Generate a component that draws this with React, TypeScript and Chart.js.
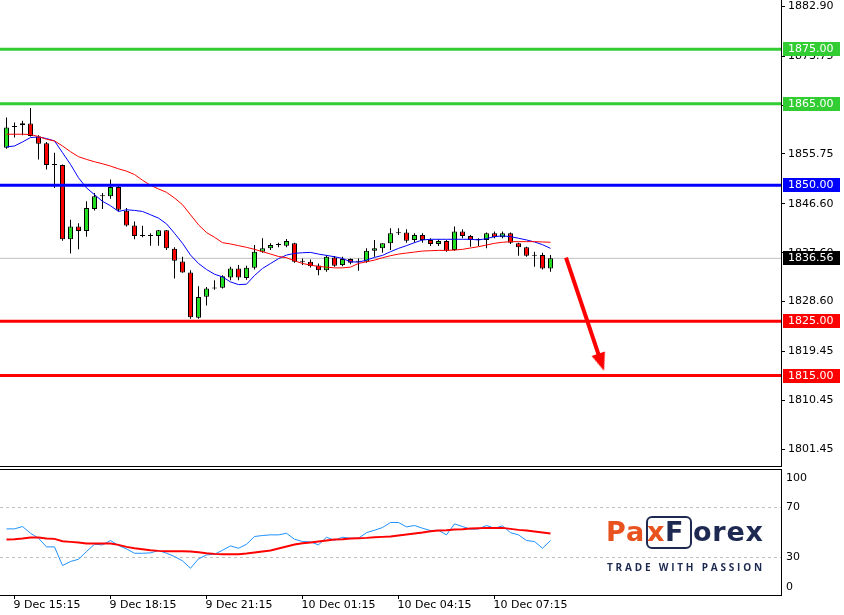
import React, { useEffect, useRef } from 'react';
import { Chart, registerables } from 'chart.js';

Chart.register(...registerables);

// ---------- data (15-minute candles, 9 Dec 15:00 onward) ----------
const opens = [
  1856.91, 1860.70, 1861.05, 1861.36, 1858.95, 1857.72, 1853.70, 1853.70, 1840.06, 1842.41,
  1841.60, 1845.62, 1847.96, 1847.96, 1849.69, 1845.31, 1842.59, 1840.68, 1840.68, 1840.68,
  1841.73, 1838.33, 1835.99, 1833.95, 1825.62, 1829.51, 1830.99, 1831.17, 1833.02, 1834.69,
  1832.95, 1834.85, 1837.78, 1838.39, 1839.01, 1838.89, 1839.32, 1835.93, 1835.93, 1835.25,
  1834.38, 1836.73, 1835.31, 1836.42, 1835.93, 1835.93, 1837.96, 1838.39, 1839.32, 1841.17,
  1841.30, 1839.94, 1840.86, 1839.94, 1839.20, 1839.75, 1838.09, 1841.48, 1840.68, 1839.94,
  1839.94, 1841.17, 1840.43, 1841.17, 1839.32, 1838.58, 1837.04, 1837.16, 1834.69,
];
const highs = [
  1862.47, 1861.54, 1861.85, 1864.20, 1859.20, 1857.96, 1855.99, 1853.83, 1843.64, 1843.02,
  1847.04, 1848.58, 1848.58, 1851.05, 1849.94, 1845.80, 1843.33, 1842.53, 1841.17, 1841.79,
  1841.79, 1838.58, 1836.85, 1834.38, 1831.42, 1831.30, 1832.53, 1833.46, 1835.00, 1835.31,
  1835.20, 1839.01, 1840.25, 1839.32, 1839.44, 1840.12, 1839.44, 1836.54, 1836.36, 1835.62,
  1837.16, 1836.97, 1836.85, 1836.54, 1836.54, 1838.39, 1839.94, 1839.32, 1842.10, 1842.10,
  1841.91, 1841.17, 1841.17, 1840.25, 1840.06, 1839.94, 1842.41, 1841.91, 1840.86, 1840.25,
  1841.30, 1841.48, 1841.48, 1841.30, 1839.44, 1838.70, 1837.78, 1837.59, 1837.16,
];
const lows = [
  1856.73, 1858.76, 1859.20, 1858.95, 1854.75, 1852.90, 1849.51, 1839.81, 1837.47, 1838.21,
  1840.55, 1845.37, 1845.62, 1847.53, 1845.18, 1842.41, 1840.06, 1840.43, 1838.89, 1838.89,
  1838.09, 1832.84, 1833.89, 1825.43, 1825.43, 1827.90, 1830.80, 1830.99, 1832.53, 1832.53,
  1832.60, 1834.51, 1837.59, 1838.09, 1838.58, 1838.58, 1835.74, 1835.31, 1834.88, 1833.46,
  1834.07, 1835.00, 1835.12, 1835.49, 1834.26, 1835.74, 1836.85, 1837.59, 1838.09, 1840.86,
  1839.44, 1839.44, 1839.44, 1838.83, 1838.83, 1837.78, 1837.96, 1840.25, 1838.70, 1838.83,
  1838.39, 1840.25, 1840.25, 1839.20, 1837.04, 1836.85, 1835.00, 1834.51, 1834.07,
];
const closes = [
  1860.62, 1860.70, 1861.42, 1859.07, 1857.65, 1853.70, 1853.70, 1840.06, 1842.41, 1841.60,
  1845.80, 1847.96, 1847.96, 1849.69, 1845.49, 1842.59, 1840.68, 1840.68, 1840.68, 1841.73,
  1838.39, 1836.11, 1833.95, 1825.74, 1829.44, 1830.99, 1830.99, 1833.27, 1834.69, 1833.02,
  1834.85, 1837.78, 1838.39, 1839.01, 1839.01, 1839.75, 1835.93, 1835.93, 1835.12, 1834.38,
  1836.85, 1835.18, 1836.42, 1835.74, 1835.93, 1837.96, 1838.39, 1839.32, 1841.17, 1841.17,
  1839.81, 1840.86, 1839.94, 1839.20, 1839.75, 1837.96, 1841.48, 1840.68, 1839.94, 1839.94,
  1841.17, 1840.43, 1841.17, 1839.44, 1838.58, 1837.04, 1837.04, 1834.69, 1836.56,
];
const maFast = [
  1857.04, 1857.22, 1857.96, 1858.76, 1858.89, 1858.58, 1858.15, 1855.99, 1853.83, 1851.37,
  1849.51, 1848.27, 1847.04, 1846.23, 1845.18, 1845.49, 1845.37, 1845.18, 1844.57, 1843.95,
  1842.90, 1841.17, 1839.32, 1837.16, 1835.62, 1834.51, 1833.64, 1833.15, 1832.22, 1831.73,
  1831.80, 1833.40, 1834.70, 1835.60, 1836.50, 1837.16, 1837.47, 1837.59, 1837.65, 1837.34,
  1837.10, 1836.85, 1836.54, 1835.93, 1835.86, 1836.23, 1836.73, 1837.10, 1837.78, 1838.39,
  1838.89, 1839.44, 1839.94, 1840.06, 1840.06, 1840.06, 1840.06, 1840.06, 1840.06, 1839.94,
  1840.19, 1840.55, 1840.68, 1840.55, 1840.25, 1839.94, 1839.57, 1839.07, 1838.39,
];
const maSlow = [
  1859.38, 1859.38, 1859.38, 1859.32, 1858.95, 1858.46, 1858.15, 1857.22, 1856.17, 1855.25,
  1854.75, 1854.32, 1853.95, 1853.52, 1853.02, 1852.59, 1851.97, 1850.92, 1849.99, 1849.32,
  1848.70, 1847.65, 1846.42, 1844.57, 1842.72, 1841.30, 1840.43, 1839.44, 1839.20, 1838.89,
  1838.58, 1838.21, 1837.78, 1837.35, 1836.90, 1836.67, 1836.11, 1835.62, 1835.31, 1835.06,
  1834.94, 1834.81, 1834.81, 1834.94, 1835.62, 1835.93, 1836.23, 1836.67, 1837.04, 1837.34,
  1837.53, 1837.71, 1837.90, 1837.96, 1838.02, 1838.02, 1838.09, 1838.21, 1838.46, 1838.70,
  1839.01, 1839.32, 1839.51, 1839.63, 1839.63, 1839.63, 1839.63, 1839.57, 1839.51,
];
const oscMain = [
  52.9, 52.9, 54.8, 49.4, 45.4, 38.5, 38.5, 23.6, 26.8, 28.6,
  34.8, 40.6, 40.1, 43.6, 39.6, 36.9, 33.4, 33.4, 33.7, 35.6,
  33.4, 30.8, 27.3, 21.4, 28.9, 32.1, 32.6, 35.8, 39.3, 37.4,
  40.6, 46.8, 47.6, 48.1, 48.1, 49.4, 44.6, 42.8, 42.5, 40.1,
  46.2, 43.8, 46.2, 45.4, 45.4, 49.9, 51.8, 54.0, 58.0, 58.0,
  54.5, 55.6, 53.4, 51.6, 51.8, 48.1, 56.9, 54.8, 52.6, 52.9,
  55.6, 53.4, 55.3, 49.9, 48.1, 43.6, 42.8, 37.4, 43.6,
];
const oscSignal = [
  44.4, 44.6, 45.2, 46.0, 46.0, 45.2, 44.9, 43.0, 42.5, 42.0,
  41.2, 41.2, 41.2, 41.2, 40.1, 38.5, 37.4, 36.6, 35.8, 35.3,
  35.0, 35.0, 35.0, 34.8, 34.2, 33.4, 32.9, 32.6, 32.6, 32.6,
  33.2, 34.0, 34.8, 35.6, 37.2, 38.8, 40.4, 41.4, 42.0, 42.8,
  43.6, 44.4, 44.6, 45.2, 45.4, 45.7, 46.2, 46.5, 46.8, 47.6,
  48.4, 49.2, 50.0, 51.0, 51.6, 51.8, 52.4, 52.6, 53.2, 53.4,
  53.7, 53.7, 53.7, 52.9, 52.1, 51.6, 50.8, 50.0, 49.2,
];

const levelValues = [1875, 1865, 1850, 1825, 1815];
const levelColors = ['#32cd32', '#32cd32', '#0000ff', '#ff0000', '#ff0000'];
const currentPrice = 1836.56;

const priceTicks = [1801.45, 1810.45, 1819.45, 1828.6, 1837.6, 1846.6, 1855.75, 1864.75, 1873.75, 1882.9];
const oscTicks = [100, 70, 30, 0];
const oscLevels = [70, 30];

const xTickIndex = [1, 13, 25, 37, 49, 61];
const xTickLabels = ['9 Dec 15:15', '9 Dec 18:15', '9 Dec 21:15', '10 Dec 01:15', '10 Dec 04:15', '10 Dec 07:15'];

// forecast arrow (index, price)
const arrowStart = [69.94, 1836.7];
const arrowShaftEnd = [74.21, 1817.98];
const arrowTip = [74.69, 1815.88];
const arrowHeadRotation = -18.6;

// ---------- styles ----------
const X_MIN = -0.8125;
const X_MAX = 96.8125;
const Y_MIN = 1798.19;
const Y_MAX = 1884.06;
const FONT = { family: '"DejaVu Sans", Verdana, sans-serif', size: 11 };
const FONT_CSS = '11px "DejaVu Sans", Verdana, sans-serif';
const BULL = '#22dd22';
const BEAR = '#ff0000';
const NAVY = '#1d2951';
const ORANGE = '#e8521f';

function makeArrowHead(color: string) {
  const c = document.createElement('canvas');
  c.width = 16;
  c.height = 40;
  const g = c.getContext('2d')!;
  g.fillStyle = color;
  g.beginPath();
  g.moveTo(8, 20);
  g.lineTo(1, 2);
  g.lineTo(15, 2);
  g.closePath();
  g.fill();
  return c;
}

const mainFrame = {
  id: 'mainFrame',
  afterDraw(chart: any) {
    const { ctx, chartArea } = chart;
    ctx.save();
    ctx.strokeStyle = '#000';
    ctx.lineWidth = 1;
    ctx.beginPath();
    ctx.moveTo(0, chartArea.bottom - 0.5);
    ctx.lineTo(chartArea.right + 1, chartArea.bottom - 0.5);
    ctx.stroke();
    ctx.restore();
  },
};

const tagPlugin = {
  id: 'tags',
  afterDraw(chart: any) {
    const { ctx, chartArea } = chart;
    const y = chart.scales.y;
    const values = [...levelValues, currentPrice];
    const colors = [...levelColors, '#000000'];
    ctx.save();
    ctx.font = FONT_CSS;
    ctx.textBaseline = 'middle';
    ctx.textAlign = 'left';
    values.forEach((v, i) => {
      const py = Math.round(y.getPixelForValue(v));
      ctx.fillStyle = colors[i];
      ctx.fillRect(chartArea.right + 2, py - 7, 57, 14);
      ctx.fillStyle = '#ffffff';
      ctx.fillText(v.toFixed(2), chartArea.right + 7, py + 0.5);
    });
    ctx.restore();
  },
};

const oscFrame = {
  id: 'oscFrame',
  afterDraw(chart: any) {
    const { ctx, chartArea } = chart;
    ctx.save();
    ctx.strokeStyle = '#000';
    ctx.lineWidth = 1;
    ctx.beginPath();
    ctx.moveTo(0, chartArea.top - 0.5);
    ctx.lineTo(chartArea.right + 1, chartArea.top - 0.5);
    ctx.stroke();
    // axis labels, kept inside the panel
    const y = chart.scales.y;
    ctx.font = FONT_CSS;
    ctx.fillStyle = '#000';
    ctx.textBaseline = 'middle';
    ctx.textAlign = 'left';
    oscTicks.forEach((v) => {
      const p = Math.min(Math.max(y.getPixelForValue(v), chartArea.top + 8), chartArea.bottom - 8);
      ctx.fillText(String(v), chartArea.right + 5, p);
    });
    ctx.restore();
  },
};

export default function App() {
  const mainRef = useRef<HTMLCanvasElement>(null);
  const oscRef = useRef<HTMLCanvasElement>(null);

  useEffect(() => {
    const idx = opens.map((_, i) => i);
    const bodies = idx.map((i) => ({ x: i, y: [opens[i], closes[i]] }));
    const wicks = idx.map((i) => ({ x: i, y: [lows[i], highs[i]] }));
    const bodyColors = idx.map((i) => (closes[i] > opens[i] ? BULL : closes[i] < opens[i] ? BEAR : '#000000'));
    const head = makeArrowHead('#ff0000');

    const main = new Chart(mainRef.current!, {
      type: 'line',
      data: {
        datasets: [
          {
            data: [
              { x: arrowStart[0], y: arrowStart[1] },
              { x: arrowShaftEnd[0], y: arrowShaftEnd[1] },
            ],
            borderColor: '#ff0000',
            borderWidth: 4,
            pointRadius: 0,
            borderCapStyle: 'butt',
            order: 0,
          },
          {
            data: [{ x: arrowTip[0], y: arrowTip[1] }],
            showLine: false,
            pointStyle: head,
            pointRadius: 6,
            pointRotation: arrowHeadRotation,
            order: 0,
          },
          ...levelValues.map((v, j) => ({
            data: [
              { x: X_MIN, y: v },
              { x: X_MAX, y: v },
            ],
            borderColor: levelColors[j],
            borderWidth: 3,
            pointRadius: 0,
            order: 1,
          })),
          {
            data: idx.map((i) => ({ x: i, y: maSlow[i] })),
            borderColor: '#ff0000',
            borderWidth: 1,
            pointRadius: 0,
            order: 2,
          },
          {
            data: idx.map((i) => ({ x: i, y: maFast[i] })),
            borderColor: '#0000ff',
            borderWidth: 1,
            pointRadius: 0,
            order: 2,
          },
          {
            type: 'bar',
            data: bodies,
            backgroundColor: bodyColors,
            borderColor: '#000000',
            borderWidth: 1,
            borderSkipped: false,
            barThickness: 5,
            minBarLength: 1,
            grouped: false,
            inflateAmount: 0,
            order: 3,
          },
          {
            type: 'bar',
            data: wicks,
            backgroundColor: '#000000',
            borderWidth: 0,
            barThickness: 1,
            grouped: false,
            inflateAmount: 0,
            order: 4,
          },
          {
            data: [
              { x: X_MIN, y: currentPrice },
              { x: X_MAX, y: currentPrice },
            ],
            borderColor: '#c0c0c0',
            borderWidth: 1,
            pointRadius: 0,
            order: 5,
          },
        ] as any,
      },
      options: {
        responsive: false,
        animation: false,
        events: [],
        layout: { padding: 0, autoPadding: false },
        plugins: { legend: { display: false }, tooltip: { enabled: false } },
        scales: {
          x: { type: 'linear', min: X_MIN, max: X_MAX, display: false, offset: false },
          y: {
            type: 'linear',
            position: 'right',
            min: Y_MIN,
            max: Y_MAX,
            bounds: 'data',
            afterBuildTicks: (s: any) => {
              s.ticks = priceTicks.map((v) => ({ value: v }));
            },
            afterFit: (s: any) => {
              s.width = 63;
              s.paddingTop = 0;
              s.paddingBottom = 0;
            },
            ticks: {
              font: FONT,
              color: '#000',
              padding: 3,
              autoSkip: false,
              callback: (v: any) => Number(v).toFixed(2),
            },
            grid: { drawOnChartArea: false, drawTicks: true, tickLength: 4, color: '#000', lineWidth: 1 },
            border: { display: true, color: '#000', width: 1 },
          },
        } as any,
      },
      plugins: [mainFrame, tagPlugin],
    } as any);

    const osc = new Chart(oscRef.current!, {
      type: 'line',
      data: {
        datasets: [
          {
            data: idx.map((i) => ({ x: i, y: oscSignal[i] })),
            borderColor: '#ff0000',
            borderWidth: 2,
            pointRadius: 0,
            order: 0,
          },
          {
            data: idx.map((i) => ({ x: i, y: oscMain[i] })),
            borderColor: '#1e90ff',
            borderWidth: 1,
            pointRadius: 0,
            order: 1,
          },
          ...oscLevels.map((v) => ({
            data: [
              { x: X_MIN, y: v },
              { x: X_MAX, y: v },
            ],
            borderColor: '#c0c0c0',
            borderWidth: 1,
            borderDash: [3, 3],
            pointRadius: 0,
            order: 3,
          })),
        ] as any,
      },
      options: {
        responsive: false,
        animation: false,
        events: [],
        layout: { padding: { top: 1, left: 0, right: 0, bottom: 0 }, autoPadding: false },
        plugins: { legend: { display: false }, tooltip: { enabled: false } },
        scales: {
          x: {
            type: 'linear',
            position: 'bottom',
            min: X_MIN,
            max: X_MAX,
            offset: false,
            afterBuildTicks: (s: any) => {
              s.ticks = xTickIndex.map((v) => ({ value: v }));
            },
            afterFit: (s: any) => {
              s.height = 20;
              s.paddingLeft = 0;
              s.paddingRight = 0;
            },
            ticks: {
              font: FONT,
              color: '#000',
              align: 'start',
              padding: 0,
              labelOffset: -1,
              autoSkip: false,
              maxRotation: 0,
              callback: (v: any) => {
                const k = xTickIndex.indexOf(Number(v));
                return k >= 0 ? xTickLabels[k] : '';
              },
            },
            grid: { drawOnChartArea: false, drawTicks: true, tickLength: 4, color: '#000' },
            border: { display: true, color: '#000', width: 1 },
          },
          y: {
            type: 'linear',
            position: 'right',
            min: 0,
            max: 100,
            afterFit: (s: any) => {
              s.width = 63;
              s.paddingTop = 0;
              s.paddingBottom = 0;
            },
            ticks: { display: false },
            grid: { display: false },
            border: { display: true, color: '#000', width: 1 },
          },
        } as any,
      },
      plugins: [oscFrame],
    } as any);

    return () => {
      main.destroy();
      osc.destroy();
    };
  }, []);

  const big: React.CSSProperties = {
    position: 'absolute',
    fontFamily: '"DejaVu Sans", sans-serif',
    fontSize: 27,
    lineHeight: '28px',
    fontWeight: 700,
    whiteSpace: 'nowrap',
  };

  return (
    <div
      style={{
        position: 'fixed',
        left: 0,
        top: 0,
        width: 844,
        height: 615,
        background: '#ffffff',
        overflow: 'hidden',
      }}
    >
      <canvas
        ref={mainRef}
        width={844}
        height={467}
        style={{ position: 'absolute', left: 0, top: 0, width: 844, height: 467 }}
      />
      <canvas
        ref={oscRef}
        width={844}
        height={146}
        style={{ position: 'absolute', left: 0, top: 469, width: 844, height: 146 }}
      />
      <div
        style={{
          position: 'absolute',
          left: 0,
          top: 0,
          width: 844,
          height: 615,
          pointerEvents: 'none',
        }}
      >
        <span style={{ ...big, left: 606, top: 518, color: ORANGE, letterSpacing: 1 }}>Pa</span>
        <div
          style={{
            position: 'absolute',
            left: 646,
            top: 516,
            width: 46,
            height: 33,
            border: `2px solid ${NAVY}`,
            borderRadius: 6,
            boxSizing: 'border-box',
          }}
        />
        <span style={{ ...big, left: 647, top: 518, color: ORANGE }}>x</span>
        <span style={{ ...big, left: 665, top: 518, color: NAVY }}>F</span>
        <span style={{ ...big, left: 693, top: 518, color: NAVY, letterSpacing: 0.8 }}>orex</span>
        <span
          style={{
            position: 'absolute',
            left: 607,
            top: 561,
            fontFamily: '"Open Sans", sans-serif',
            fontSize: 10,
            lineHeight: '12px',
            fontWeight: 700,
            color: NAVY,
            letterSpacing: 2.8,
            whiteSpace: 'nowrap',
          }}
        >
          TRADE WITH PASSION
        </span>
      </div>
    </div>
  );
}
